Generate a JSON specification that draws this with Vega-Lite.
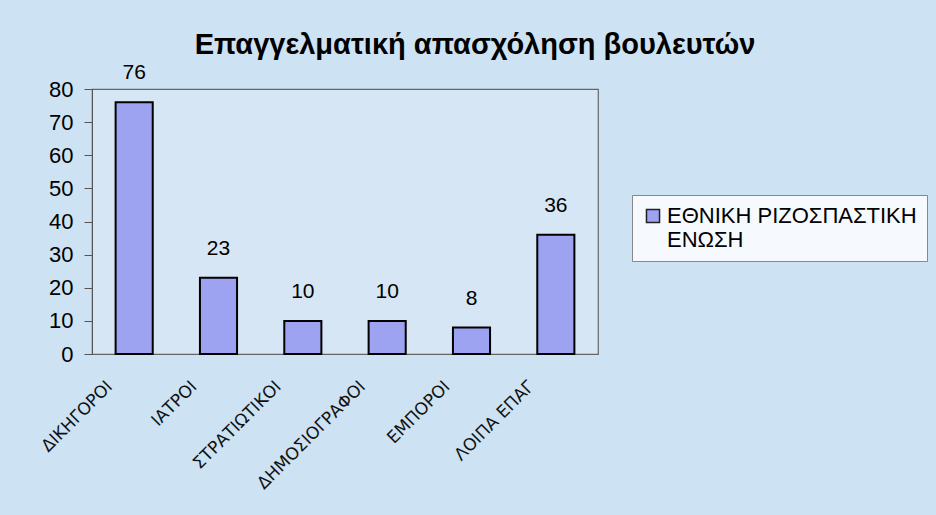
{
  "$schema": "https://vega.github.io/schema/vega-lite/v6.json",
  "autosize": {"type": "none"},
  "width": 506,
  "height": 265,
  "padding": {"left": 92, "top": 89, "right": 338, "bottom": 161},
  "background": "#cde2f2",
  "title": {
    "text": "Επαγγελματική απασχόληση βουλευτών",
    "font": "Liberation Sans",
    "fontSize": 29,
    "fontWeight": "bold",
    "color": "#000000",
    "anchor": "middle",
    "dx": 130,
    "offset": 2
  },
  "config": {
    "view": {"stroke": "#666666", "strokeWidth": 1.2, "fill": "#d6e6f5"},
    "axis": {"grid": false}
  },
  "data": {
    "values": [
      {"job": "ΔΙΚΗΓΟΡΟΙ", "n": 76, "party": "ΕΘΝΙΚΗ ΡΙΖΟΣΠΑΣΤΙΚΗ ΕΝΩΣΗ"},
      {"job": "ΙΑΤΡΟΙ", "n": 23, "party": "ΕΘΝΙΚΗ ΡΙΖΟΣΠΑΣΤΙΚΗ ΕΝΩΣΗ"},
      {"job": "ΣΤΡΑΤΙΩΤΙΚΟΙ", "n": 10, "party": "ΕΘΝΙΚΗ ΡΙΖΟΣΠΑΣΤΙΚΗ ΕΝΩΣΗ"},
      {"job": "ΔΗΜΟΣΙΟΓΡΑΦΟΙ", "n": 10, "party": "ΕΘΝΙΚΗ ΡΙΖΟΣΠΑΣΤΙΚΗ ΕΝΩΣΗ"},
      {"job": "ΕΜΠΟΡΟΙ", "n": 8, "party": "ΕΘΝΙΚΗ ΡΙΖΟΣΠΑΣΤΙΚΗ ΕΝΩΣΗ"},
      {"job": "ΛΟΙΠΑ ΕΠΑΓ", "n": 36, "party": "ΕΘΝΙΚΗ ΡΙΖΟΣΠΑΣΤΙΚΗ ΕΝΩΣΗ"}
    ]
  },
  "encoding": {
    "x": {
      "field": "job",
      "type": "nominal",
      "sort": null,
      "title": null,
      "scale": {"paddingInner": 0.56, "paddingOuter": 0.28},
      "axis": {
        "labelAngle": -45,
        "labelFont": "DejaVu Sans",
        "labelFontSize": 17,
        "labelColor": "#111111",
        "labelPadding": 24,
        "labelOffset": -30,
        "ticks": false,
        "domain": false
      }
    },
    "y": {
      "field": "n",
      "type": "quantitative",
      "title": null,
      "scale": {"domain": [0, 80]},
      "axis": {
        "values": [0, 10, 20, 30, 40, 50, 60, 70, 80],
        "labelFont": "Liberation Sans",
        "labelFontSize": 22,
        "labelColor": "#000000",
        "tickColor": "#555555",
        "tickSize": 8,
        "domainColor": "#555555",
        "labelPadding": 11
      }
    }
  },
  "layer": [
    {
      "mark": {"type": "bar", "stroke": "#000000", "strokeWidth": 2},
      "encoding": {
        "color": {
          "field": "party",
          "type": "nominal",
          "scale": {"range": ["#9da3f0"]},
          "legend": {
            "title": null,
            "orient": "none",
            "legendX": 540,
            "legendY": 106,
            "symbolType": "square",
            "symbolSize": 170,
            "symbolStrokeColor": "#222222",
            "symbolStrokeWidth": 1.5,
            "labelFont": "Liberation Sans",
            "labelFontSize": 22,
            "labelColor": "#000000",
            "labelLimit": 400,
            "labelExpr": "['ΕΘΝΙΚΗ ΡΙΖΟΣΠΑΣΤΙΚΗ', 'ΕΝΩΣΗ']",
            "strokeColor": "#888888",
            "fillColor": "#f6f9fd",
            "padding": 10,
            "labelOffset": 3
          }
        }
      }
    },
    {
      "mark": {"type": "text", "baseline": "bottom", "dy": -19, "font": "Liberation Sans", "fontSize": 21, "color": "#000000"},
      "encoding": {"text": {"field": "n", "type": "quantitative"}}
    }
  ]
}
